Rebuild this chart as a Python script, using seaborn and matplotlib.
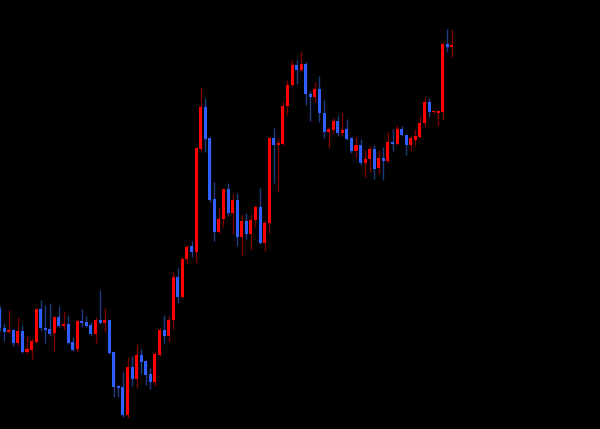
import numpy as np
import pandas as pd
import matplotlib
matplotlib.use("Agg")
import matplotlib.pyplot as plt
import seaborn as sns

# Kurs (punkty)
open_ = [121, 102, 98, 100, 87, 99, 78, 80, 88, 121,
         102, 101, 97, 113, 104, 106, 88, 81, 109, 108,
         105, 96, 110, 107, 110, 78, 44, 43, 15, 63,
         51, 75, 69, 56, 48, 75, 100, 94, 110, 153,
         133, 171, 184, 178, 281, 323, 292, 231, 198, 211,
         241, 217, 230, 193, 209, 196, 210, 223, 187, 207,
         292, 285, 286, 324, 345, 365, 360, 366, 336, 333,
         341, 317, 298, 300, 309, 297, 301, 292, 279, 285,
         267, 271, 281, 262, 272, 269, 288, 286, 301, 295,
         285, 290, 293, 307, 328, 318, 317, 318, 386, 383]
high = [124, 107, 120, 101, 113, 105, 95, 92, 122, 130,
        125, 127, 114, 124, 119, 115, 93, 111, 121, 114,
        108, 113, 140, 122, 111, 79, 45, 58, 73, 74,
        86, 81, 70, 62, 79, 102, 115, 114, 158, 162,
        173, 186, 189, 283, 343, 332, 293, 248, 222, 242,
        247, 236, 237, 216, 217, 216, 225, 242, 210, 293,
        302, 292, 329, 350, 370, 370, 379, 368, 339, 348,
        354, 330, 303, 312, 314, 318, 311, 293, 294, 291,
        280, 284, 285, 280, 283, 298, 301, 305, 304, 296,
        294, 301, 314, 333, 332, 320, 320, 388, 401, 401]
low = [99, 89, 97, 84, 85, 77, 76, 70, 87, 99,
       87, 94, 79, 103, 100, 86, 79, 78, 103, 103,
       95, 87, 106, 98, 76, 33, 33, 13, 12, 44,
       42, 56, 45, 41, 44, 74, 87, 88, 101, 127,
       132, 166, 173, 167, 278, 278, 228, 189, 197, 203,
       214, 196, 184, 175, 191, 180, 203, 186, 179, 197,
       247, 239, 285, 315, 344, 346, 359, 325, 309, 328,
       308, 292, 282, 296, 294, 294, 290, 277, 272, 265,
       253, 258, 251, 256, 250, 267, 279, 285, 294, 275,
       279, 284, 292, 303, 313, 316, 304, 310, 378, 373]
close = [102, 98, 100, 87, 99, 78, 81, 89, 121, 102,
         100, 96, 113, 104, 106, 87, 80, 109, 107, 104,
         96, 110, 107, 110, 77, 43, 42, 15, 63, 51,
         75, 68, 55, 48, 76, 100, 94, 110, 153, 133,
         171, 183, 178, 282, 323, 291, 230, 198, 211, 241,
         217, 230, 193, 209, 196, 210, 223, 187, 207, 292,
         285, 287, 324, 345, 365, 360, 366, 336, 333, 341,
         317, 298, 301, 309, 297, 300, 291, 279, 285, 267,
         271, 281, 261, 272, 269, 288, 286, 301, 295, 285,
         292, 294, 307, 328, 318, 319, 319, 386, 383, 385]

df = pd.DataFrame({"open": open_, "high": high, "low": low, "close": close})
df["idx"] = np.arange(len(df))
df["up"] = df["close"] > df["open"]

sns.set_style("dark", {"axes.facecolor": "black", "figure.facecolor": "black"})

fig = plt.figure(figsize=(6, 4.29), dpi=100)
ax = fig.add_axes([0, 0, 1, 1])
ax.set_facecolor("black")

body_up = "#ff0000"
body_dn = "#2f5fff"
wick_up = "#7a0000"
wick_dn = "#1f3c80"

wick_cols = np.where(df["up"], wick_up, wick_dn)
body_cols = np.where(df["up"], body_up, body_dn)

# knoty
ax.vlines(df["idx"], df["low"], df["high"], colors=wick_cols, linewidth=1.0, zorder=1)

# korpusy
bottom = df[["open", "close"]].min(axis=1)
height = (df["close"] - df["open"]).abs().clip(lower=1)
ax.bar(df["idx"], height, bottom=bottom, width=0.66, color=body_cols,
       linewidth=0, zorder=2)

ax.set_xlim(0.09, 131.4)
ax.set_ylim(1, 430)
ax.set_xticks([])
ax.set_yticks([])
for s in ax.spines.values():
    s.set_visible(False)

fig.savefig("out.png", dpi=100, facecolor="black")
